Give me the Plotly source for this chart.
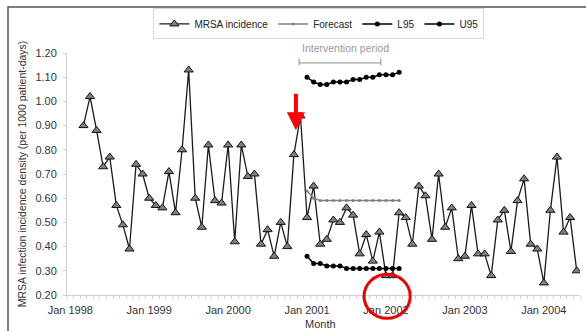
import numpy as np
import plotly.graph_objects as go

# Monthly MRSA infection incidence density (per 1000 patient-days),
# March 1998 to June 2004
mrsa = [0.90, 1.02, 0.88, 0.73, 0.77, 0.57, 0.49, 0.39, 0.74, 0.70,
        0.60, 0.57, 0.56, 0.71, 0.54, 0.80, 1.13, 0.60, 0.48, 0.82,
        0.59, 0.58, 0.82, 0.42, 0.82, 0.69, 0.70, 0.41, 0.47, 0.36,
        0.50, 0.40, 0.78, 0.94, 0.52, 0.65, 0.41, 0.43, 0.51, 0.50,
        0.56, 0.53, 0.37, 0.45, 0.34, 0.46, 0.28, 0.28, 0.54, 0.52,
        0.41, 0.65, 0.61, 0.43, 0.70, 0.48, 0.56, 0.35, 0.36, 0.57,
        0.37, 0.37, 0.28, 0.51, 0.55, 0.38, 0.59, 0.68, 0.41, 0.39,
        0.25, 0.55, 0.77, 0.46, 0.52, 0.30]

# Forecast with 95% limits, January 2001 to March 2002
forecast = [0.63, 0.60, 0.59, 0.59, 0.59, 0.59, 0.59, 0.59, 0.59, 0.59,
            0.59, 0.59, 0.59, 0.59, 0.59]
l95 = [0.36, 0.33, 0.33, 0.32, 0.32, 0.32, 0.31, 0.31, 0.31, 0.31,
       0.31, 0.31, 0.31, 0.31, 0.31]
u95 = [1.10, 1.08, 1.07, 1.07, 1.08, 1.08, 1.08, 1.09, 1.09, 1.10,
       1.10, 1.11, 1.11, 1.11, 1.12]

year_labels = ["Jan 1998", "Jan 1999", "Jan 2000", "Jan 2001",
               "Jan 2002", "Jan 2003", "Jan 2004"]
y_ticks = [0.20, 0.30, 0.40, 0.50, 0.60, 0.70, 0.80, 0.90, 1.00, 1.10, 1.20]

# month index counted from January 1998
N_MONTHS = 78
mrsa_start = 2      # March 1998
forecast_start = 36  # January 2001
x_all = np.arange(mrsa_start, mrsa_start + len(mrsa))
x_fc = np.arange(forecast_start, forecast_start + len(forecast))
x_year = np.arange(len(year_labels)) * 12

FONT = "Liberation Sans, Arial, sans-serif"
X_RANGE = [-0.5, N_MONTHS - 0.5]


def to_paper(xv):
    """Month index -> paper fraction along the x axis."""
    return (np.asarray(xv) - X_RANGE[0]) / (X_RANGE[1] - X_RANGE[0])


fig = go.Figure()
fig.add_trace(go.Scatter(
    x=x_all, y=mrsa, name="MRSA incidence", mode="lines+markers",
    line=dict(color="#1a1a1a", width=1.3),
    marker=dict(symbol="triangle-up", size=8, color="#808080",
                line=dict(color="#111111", width=1))))
fig.add_trace(go.Scatter(
    x=x_fc, y=forecast, name="Forecast", mode="lines+markers",
    line=dict(color="#7f7f7f", width=1.5),
    marker=dict(symbol="circle", size=3, color="#7f7f7f")))
fig.add_trace(go.Scatter(
    x=x_fc, y=l95, name="L95", mode="lines+markers",
    line=dict(color="#000000", width=1.5),
    marker=dict(symbol="circle", size=5, color="#000000")))
fig.add_trace(go.Scatter(
    x=x_fc, y=u95, name="U95", mode="lines+markers",
    line=dict(color="#000000", width=1.5),
    marker=dict(symbol="circle", size=5, color="#000000")))

annotations = [
    dict(x=0.495, y=-0.12, xref="paper", yref="paper", text="Month",
         showarrow=False, yanchor="middle",
         font=dict(size=11, color="#333333", family=FONT)),
    dict(x=float(to_paper(41.8)), y=1.02, xref="paper", yref="paper",
         text="Intervention period", showarrow=False, yanchor="middle",
         font=dict(size=10.5, color="#999999", family=FONT)),
    # start of intervention
    dict(x=34.3, y=0.881, xref="x", yref="y", text="", showarrow=True,
         ax=0, ay=-38, arrowcolor="#ff0000", arrowwidth=4,
         arrowhead=2, arrowsize=0.9, standoff=0),
]

shapes = [
    # intervention bracket
    dict(type="path", xref="x", yref="y",
         path="M 34.8,1.177 L 34.8,1.149 M 34.8,1.159 L 47.2,1.159 "
              "M 47.2,1.177 L 47.2,1.149",
         line=dict(color="#a0a0a0", width=1.3)),
    # highlight circle
    dict(type="circle", xref="paper", yref="paper",
         x0=0.579, x1=0.669, y0=-0.096, y1=0.0855,
         line=dict(color="#ee0000", width=3)),
    # outer frame
    dict(type="rect", xref="paper", yref="paper",
         x0=-0.115, x1=1.05, y0=-0.2, y1=1.19,
         line=dict(color="#555555", width=1.5)),
]

fig.update_layout(
    width=586, height=331,
    margin=dict(l=67, r=6, t=53, b=36, pad=0),
    paper_bgcolor="white", plot_bgcolor="white",
    font=dict(family=FONT, size=11, color="#333333"),
    showlegend=True,
    legend=dict(orientation="h", x=0.491, xanchor="center",
                y=1.12, yanchor="middle",
                bordercolor="#d9d9d9", borderwidth=1,
                font=dict(size=10, color="#222222"),
                itemwidth=30, tracegroupgap=0),
    annotations=annotations,
    shapes=shapes,
)
fig.update_xaxes(
    range=X_RANGE, showgrid=False, zeroline=False,
    showline=True, linecolor="#d0d0d0", linewidth=1,
    tickmode="array", tickvals=x_year, ticktext=year_labels,
    ticks="", ticklabelstandoff=5,
    tickfont=dict(size=11, color="#333333"),
    minor=dict(ticks="outside", ticklen=3, tickcolor="#d0d0d0",
               tickmode="linear", tick0=-0.5, dtick=1, showgrid=False))
fig.update_yaxes(
    range=[0.2, 1.2], showgrid=False, zeroline=False,
    showline=True, linecolor="#d0d0d0", linewidth=1,
    ticks="outside", ticklen=3, tickcolor="#d0d0d0",
    tickvals=y_ticks, tickformat=".2f", ticklabelstandoff=4,
    tickfont=dict(size=11, color="#333333"),
    title=dict(text="MRSA infection incidence density (per 1000 patient-days)",
               font=dict(size=10.5, color="#333333"), standoff=6))

fig.write_html("out.html")
